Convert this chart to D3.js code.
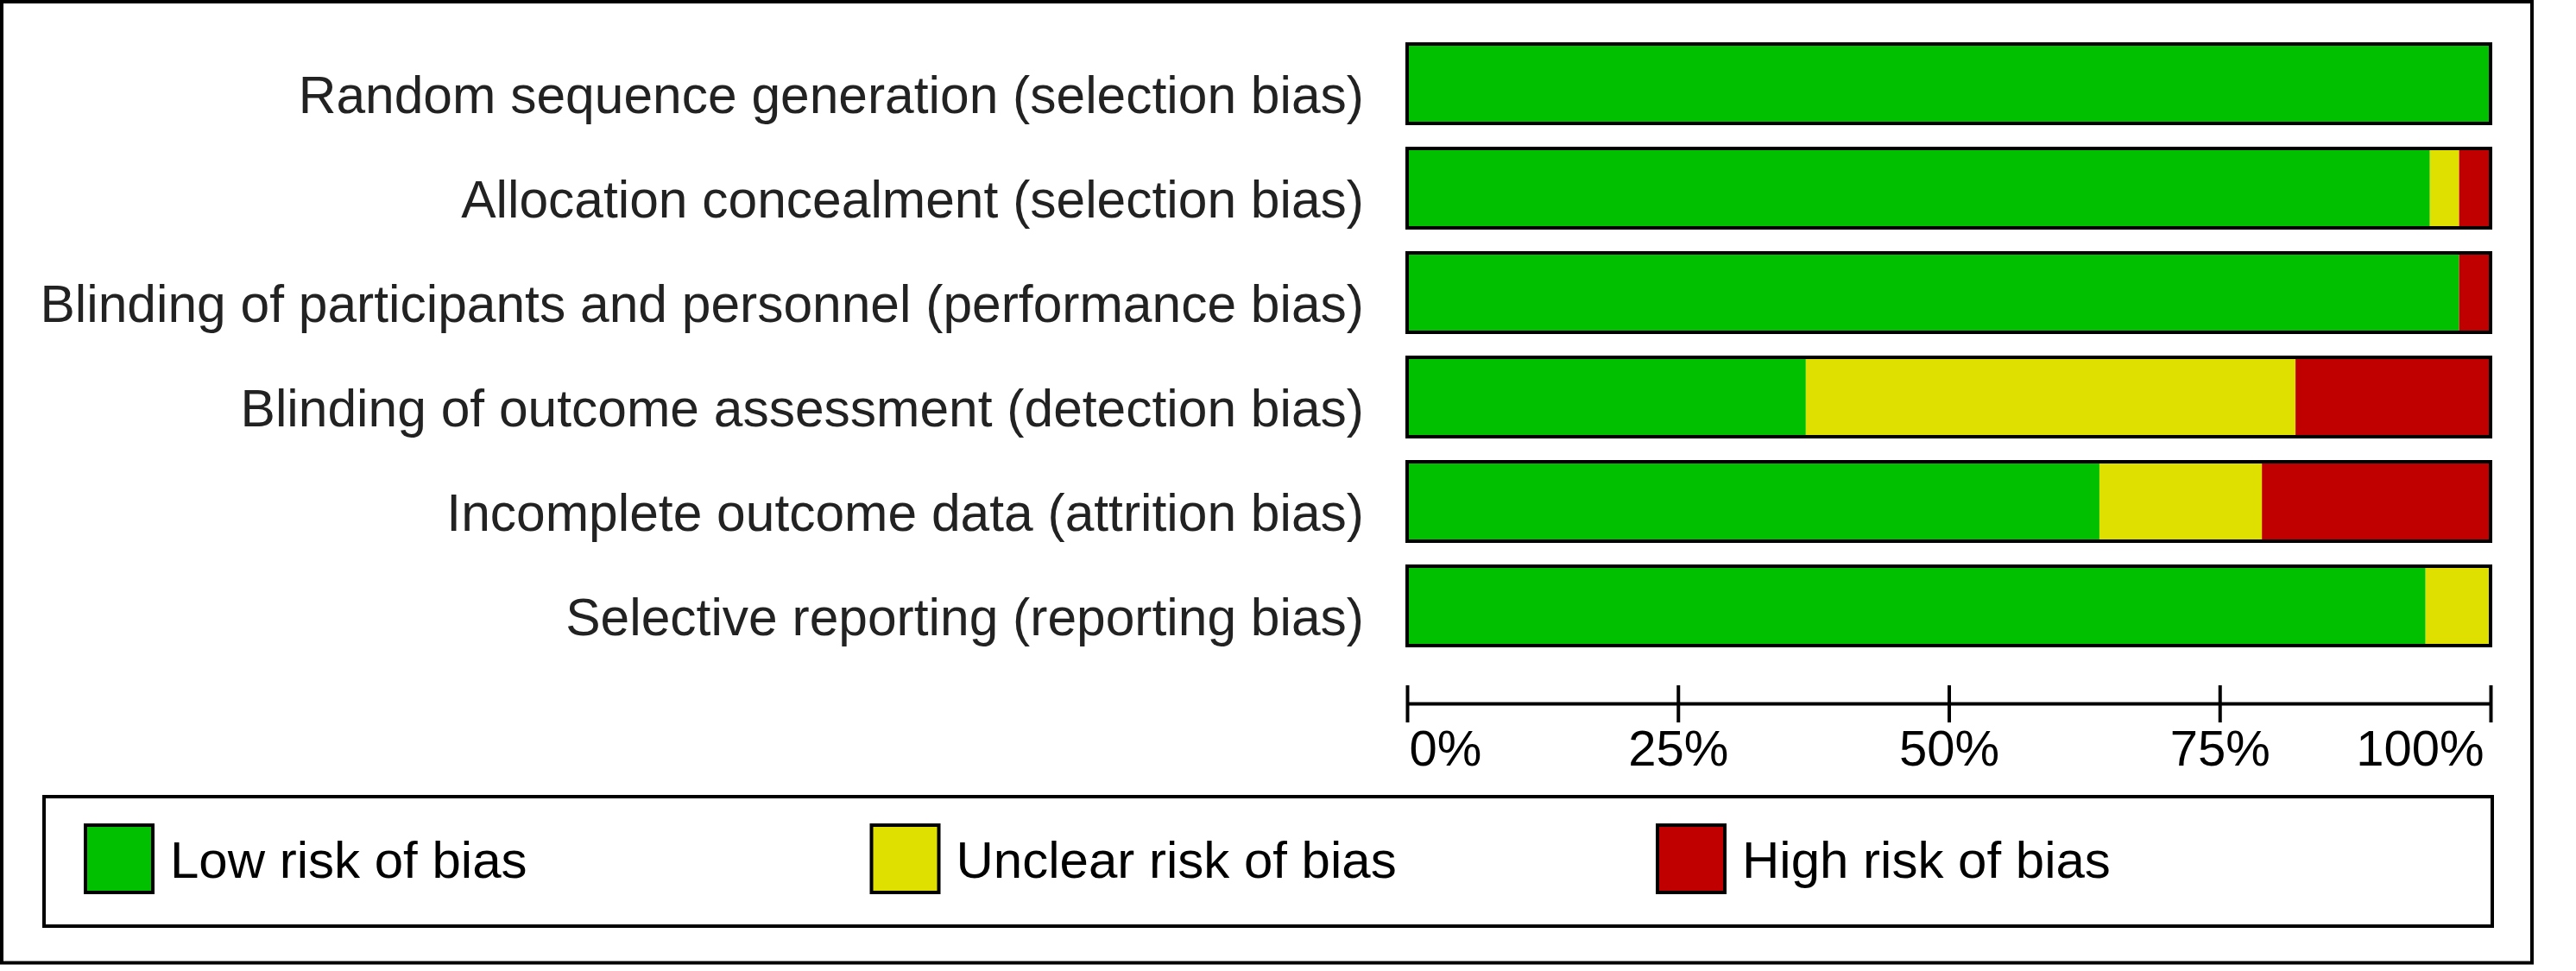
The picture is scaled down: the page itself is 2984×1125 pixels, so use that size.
<!DOCTYPE html>
<html>
<head>
<meta charset="utf-8">
<script src="https://cdn.jsdelivr.net/npm/d3@7"></script>
<style>
  html, body { margin: 0; padding: 0; background: #fff; }
  svg { display: block; }
</style>
</head>
<body>
<div id="chart"></div>
<script>
// ---- data ----
const categories = [
  "Random sequence generation (selection bias)",
  "Allocation concealment (selection bias)",
  "Blinding of participants and personnel (performance bias)",
  "Blinding of outcome assessment (detection bias)",
  "Incomplete outcome data (attrition bias)",
  "Selective reporting (reporting bias)"
];
const lowRisk     = [100, 94.4, 97.1, 36.8, 63.9, 94.0];
const unclearRisk = [0,   2.7,  0,    45.2, 15.0, 6.0];
const highRisk    = [0,   2.9,  2.9,  18.0, 21.1, 0];
const seriesKeys   = ["low", "unclear", "high"];
const legendLabels = ["Low risk of bias", "Unclear risk of bias", "High risk of bias"];
const seriesColors = ["#00C000", "#E0E000", "#C00000"];
const tickValues = [0, 25, 50, 75, 100];
const tickLabels = ["0%", "25%", "50%", "75%", "100%"];

// ---- layout ----
const W = 2984, H = 1125;
const svg = d3.select("#chart").append("svg").attr("width", W).attr("height", H);
svg.append("rect").attr("width", W).attr("height", H).attr("fill", "#fff");

// outer frame
svg.append("rect").attr("x", 2).attr("y", 2).attr("width", 2931).attr("height", 1113.5)
  .attr("fill", "none").attr("stroke", "#000").attr("stroke-width", 4);

const x = d3.scaleLinear().domain([0, 100]).range([1630, 2885]);
const y = d3.scaleBand().domain(categories).range([36.5, 36.5 + 121 * 6])
  .paddingInner(29 / 121).paddingOuter(29 / 242);

const rows = categories.map((c, i) => ({ cat: c, low: lowRisk[i], unclear: unclearRisk[i], high: highRisk[i] }));
const stack = d3.stack().keys(seriesKeys)(rows);
const color = d3.scaleOrdinal().domain(seriesKeys).range(seriesColors);

const font = "'Liberation Sans', Arial, sans-serif";

// bar segments
svg.append("g").selectAll("g").data(stack).join("g")
  .attr("fill", d => color(d.key))
  .selectAll("rect").data(d => d).join("rect")
  .attr("x", d => x(d[0]))
  .attr("width", d => Math.max(0, x(d[1]) - x(d[0])))
  .attr("y", d => y(d.data.cat))
  .attr("height", y.bandwidth());

// bar borders
svg.append("g").selectAll("rect").data(categories).join("rect")
  .attr("x", x(0)).attr("width", x(100) - x(0))
  .attr("y", d => y(d)).attr("height", y.bandwidth())
  .attr("fill", "none").attr("stroke", "#000").attr("stroke-width", 4);

// category labels
svg.append("g").selectAll("text").data(categories).join("text")
  .attr("x", 1580)
  .attr("y", d => y(d) + y.bandwidth() / 2 + 34)
  .attr("text-anchor", "end")
  .attr("font-family", font).attr("font-size", 60.5).attr("fill", "#222")
  .text(d => d);

// axis
const axis = d3.axisBottom(x).tickValues(tickValues)
  .tickFormat((d, i) => tickLabels[i]).tickSizeOuter(0);
const ag = svg.append("g").attr("transform", "translate(0,815.5)").call(axis);
ag.select(".domain").attr("stroke", "#000").attr("stroke-width", 4)
  .attr("d", `M${x(0)},0H${x(100)}`);
ag.selectAll(".tick line").attr("y1", -21.5).attr("y2", 21.5)
  .attr("stroke", "#000").attr("stroke-width", 4);
ag.selectAll(".tick text")
  .attr("y", 71.5).attr("dy", null)
  .attr("font-family", font).attr("font-size", 58).attr("fill", "#000")
  .attr("text-anchor", (d, i) => i === 0 ? "start" : (i === tickValues.length - 1 ? "end" : "middle"))
  .attr("x", (d, i) => i === 0 ? 2 : (i === tickValues.length - 1 ? -8 : 0));

// legend
const lg = svg.append("g");
lg.append("rect").attr("x", 51).attr("y", 923).attr("width", 2836).attr("height", 150)
  .attr("fill", "none").attr("stroke", "#000").attr("stroke-width", 4);
const legendStep = 910.5;
const items = lg.selectAll("g.item").data(seriesKeys).join("g").attr("class", "item")
  .attr("transform", (d, i) => `translate(${99 + i * legendStep},956)`);
items.append("rect").attr("width", 78).attr("height", 78)
  .attr("fill", d => color(d)).attr("stroke", "#000").attr("stroke-width", 4);
items.append("text").attr("x", 98).attr("y", 61)
  .attr("font-family", font).attr("font-size", 60).attr("fill", "#000")
  .text((d, i) => legendLabels[i]);
</script>
</body>
</html>
